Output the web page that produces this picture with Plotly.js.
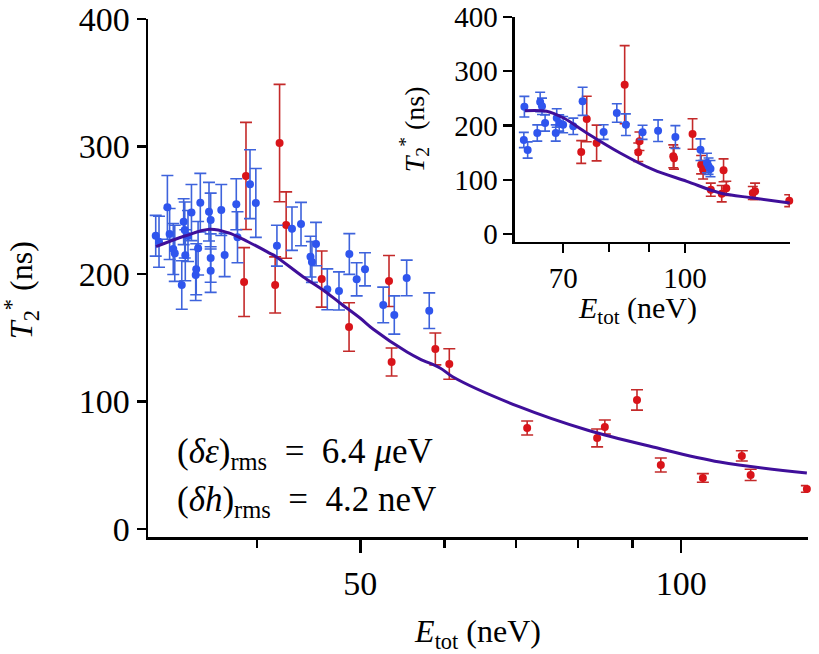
<!DOCTYPE html>
<html>
<head>
<meta charset="utf-8">
<script src="https://cdn.plot.ly/plotly-3.0.1.min.js"></script>
<style>
  html, body { margin: 0; padding: 0; background: #fff; }
  #plotDiv { width: 819px; height: 654px; }
</style>
</head>
<body>
<div id="plotDiv"></div>
<script>
"use strict";

// Main panel: blue data set
const mainBlueE = [32.14, 32.37, 32.96, 33.12, 33.38, 33.49, 34.0, 34.14, 34.22, 34.26, 34.46, 34.72,
    35.04, 35.08, 35.22, 35.39, 36.06, 36.19, 36.19, 36.19, 37.03, 37.3, 38.25, 38.35, 39.4, 39.9,
    41.76, 43.14, 43.99, 44.9, 45.04, 45.44, 46.56, 47.75, 48.83, 49.61, 50.51, 52.54, 53.81, 55.27, 58.03];
const mainBlueT = [230.0, 225.3, 252.3, 231.4, 219.6, 216.2, 191.4, 241.0, 234.5, 214.7, 229.8, 248.2,
    199.2, 203.7, 220.2, 255.9, 248.9, 242.4, 212.5, 202.6, 250.2, 214.9, 254.7, 228.8, 270.4, 255.7,
    222.2, 235.5, 239.2, 213.6, 209.4, 223.5, 188.0, 186.7, 215.7, 195.8, 203.7, 175.7, 167.8, 196.9, 171.2];
const mainBlueErr = [16, 20, 25, 20, 20, 22, 19, 18, 22, 20, 20, 22,
    20, 20, 21, 23, 23, 21, 19, 17, 20, 17, 20, 20, 27, 27,
    16, 17, 17, 16, 16, 17, 16, 15, 16, 13, 13, 14, 15, 14, 14];

// Main panel: red data set
const mainRedE = [38.9, 39.06, 41.6, 42.0, 42.6, 46.0, 48.8, 53.2, 53.5, 58.8, 60.6,
    71.7, 83.4, 84.8, 90.9, 95.7, 104.8, 114.0, 116.2, 131.2];
const mainRedT = [193.7, 276.9, 191.4, 302.7, 238.4, 196.0, 158.4, 194.5, 131.0, 141.2, 129.4,
    79.2, 71.4, 80.0, 101.2, 50.2, 40.0, 57.3, 42.4, 31.4];
const mainRedErr = [27, 42, 22, 46, 26, 22, 19, 20, 11, 12.5, 12,
    5.5, 7, 5.5, 8, 5.5, 3.4, 4, 4.4, 2.6];

// Main panel: fit
const mainFitE = [32.16, 34.22, 36.14, 37.57, 39.23, 41.14, 41.68, 44.18, 46.13, 47.85, 49.97,
    51.39, 55.31, 56.89, 59.4, 61.09, 70.56, 81.6, 94.1, 108.7, 131.2];
const mainFitT = [221.4, 229.8, 235.1, 232.4, 225.3, 216.2, 213.6, 197.9, 187.5, 177.3, 165.5,
    156.9, 138.8, 133.3, 126.3, 119.2, 95.7, 77.6, 64.3, 52.5, 43.9];

// Inset: blue data set
const insetBlueE = [62.5, 62.4, 63.1, 64.9, 65.45, 65.8, 66.4, 68.5, 68.7, 69.2, 70.0, 72.1,
    74.1, 78.8, 81.9, 84.1, 88.3, 92.4, 97.2, 104.6, 106.6, 107.1, 107.7];
const insetBlueT = [234.7, 173.3, 154.8, 186.2, 243.3, 235.4, 204.6, 186.2, 213.8, 204.6, 201.5, 198.5,
    244.6, 188.0, 223.0, 201.5, 187.5, 190.4, 178.8, 155.4, 130.9, 125.0, 120.4];
const insetBlueErr = [19, 14, 15, 15, 18, 15, 15, 15, 17, 15, 15, 15,
    26, 13.5, 17, 20, 13, 20, 21, 20, 18, 15, 15];

// Inset: red data set
const insetRedE = [73.8, 75.0, 77.2, 83.8, 87.2, 87.5, 96.6, 96.8, 102.2, 104.8, 105.4,
    107.8, 111.3, 111.9, 112.8, 121.9, 122.7, 135.6];
const insetRedT = [151.2, 212.0, 167.7, 275.2, 150.6, 170.9, 143.2, 139.5, 184.3, 127.8, 118.5,
    81.7, 74.3, 117.4, 84.2, 75.6, 78.7, 61.4];
const insetRedErr = [21, 42, 33, 72, 17, 17, 21, 20, 28, 17, 17,
    12, 15, 21, 13, 12, 15, 11];

// Inset: fit
const insetFitE = [62.6, 66.7, 70.1, 75.0, 82.7, 91.1, 100.5, 110.8, 122.1, 135.8];
const insetFitT = [227.3, 226.2, 213.8, 186.2, 149.3, 118.5, 97.1, 75.6, 66.4, 57.1];

const BLUE = '#2f55ee';
const BLUE_BAR = '#3e63dc';
const RED = '#d9141a';
const RED_BAR = '#c42a2a';
const FIT = '#3f0f9a';
const FONT = "'Liberation Serif', 'DejaVu Serif', serif";
const SP = '\u2002';
const T2_LABEL = '<i>T</i><sub>2</sub><sup>*</sup> (ns)';
const E_LABEL = '<i>E</i><sub>tot</sub> (neV)';

function dataTrace(x, y, err, color, barColor, xa, ya, capw) {
    return {
        x: x, y: y,
        type: 'scatter', mode: 'markers',
        marker: { color: color, size: 8 },
        error_y: { type: 'data', array: err, visible: true, color: barColor, thickness: 1.6, width: capw },
        xaxis: xa, yaxis: ya,
        cliponaxis: false,
        hoverinfo: 'skip'
    };
}

function fitTrace(x, y, xa, ya) {
    return {
        x: x, y: y,
        type: 'scatter', mode: 'lines',
        line: { color: FIT, width: 3, shape: 'spline' },
        xaxis: xa, yaxis: ya,
        cliponaxis: false,
        hoverinfo: 'skip'
    };
}

const traces = [
    dataTrace(mainRedE, mainRedT, mainRedErr, RED, RED_BAR, 'x', 'y', 6),
    dataTrace(mainBlueE, mainBlueT, mainBlueErr, BLUE, BLUE_BAR, 'x', 'y', 6),
    fitTrace(mainFitE, mainFitT, 'x', 'y'),
    dataTrace(insetRedE, insetRedT, insetRedErr, RED, RED_BAR, 'x2', 'y2', 5),
    dataTrace(insetBlueE, insetBlueT, insetBlueErr, BLUE, BLUE_BAR, 'x2', 'y2', 5),
    fitTrace(insetFitE, insetFitT, 'x2', 'y2'),
];

const axisCommon = {
    showline: true, linecolor: 'black', linewidth: 2.5,
    ticks: 'outside', tickcolor: 'black', tickwidth: 2.5,
    showgrid: false, zeroline: false, fixedrange: true,
    ticklabeloverflow: 'allow'
};

function textNote(text, x, y, size, angle) {
    return {
        text: text, xref: 'paper', yref: 'paper', x: x, y: y,
        xanchor: angle ? 'center' : 'left', yanchor: 'middle',
        textangle: angle || 0, showarrow: false,
        font: { size: size }
    };
}

const layout = {
    width: 819, height: 654,
    margin: { l: 148, r: 11, t: 14, b: 117 },
    paper_bgcolor: 'white', plot_bgcolor: 'rgba(0,0,0,0)',
    showlegend: false,
    font: { family: FONT, color: 'black', size: 34 },
    xaxis: Object.assign({}, axisCommon, {
        type: 'log', range: [1.4998, 2.1190], domain: [0, 1], anchor: 'y',
        tickmode: 'array', tickvals: [50, 100], ticktext: ['50', '100'], ticklen: 13,
        ticklabelstandoff: 2,
        minor: { tickmode: 'array', tickvals: [40, 60, 70, 80, 90], ticklen: 8, tickwidth: 2.5, tickcolor: 'black', ticks: 'outside' },
        tickfont: { size: 34 },
        title: { text: E_LABEL, font: { size: 32 }, standoff: 24 }
    }),
    yaxis: Object.assign({}, axisCommon, {
        range: [-6.3, 400], domain: [0, 0.9904], anchor: 'x',
        tickvals: [0, 100, 200, 300, 400], ticklen: 9,
        tickfont: { size: 34 }
    }),
    xaxis2: Object.assign({}, axisCommon, {
        type: 'log', range: [1.7839, 2.1332], domain: [0.556, 0.9727], anchor: 'y2',
        tickmode: 'array', tickvals: [70, 100], ticktext: ['70', '100'], ticklen: 9,
        minor: { tickmode: 'array', tickvals: [80, 90], ticklen: 8, tickwidth: 2.5, tickcolor: 'black', ticks: 'outside' },
        tickfont: { size: 29 }
    }),
    yaxis2: Object.assign({}, axisCommon, {
        range: [-14.2, 400], domain: [0.5646, 0.9943], anchor: 'x2',
        tickvals: [0, 100, 200, 300, 400], ticklen: 9,
        tickfont: { size: 29 },
        title: { text: T2_LABEL, font: { size: 28 }, standoff: 22 }
    }),
    annotations: [
        // main y title, slightly below the axis centre as in the original
        textNote(T2_LABEL, -0.1924, 0.472, 32, -90),
        // inset x title, a little left of the inset centre
        Object.assign(textNote(E_LABEL, 0.742, 0.4336, 30, 0), { xanchor: 'center' }),
        textNote('(<i>δε</i>)<sub>rms</sub>' + SP + '=' + SP + '6.4 <i>μ</i>eV', 0.041, 0.1606, 35, 0),
        textNote('(<i>δh</i>)<sub>rms</sub>' + SP + '=' + SP + '4.2 neV', 0.041, 0.0688, 35, 0)
    ]
};

Plotly.newPlot('plotDiv', traces, layout, { staticPlot: true, displayModeBar: false });
</script>
</body>
</html>
